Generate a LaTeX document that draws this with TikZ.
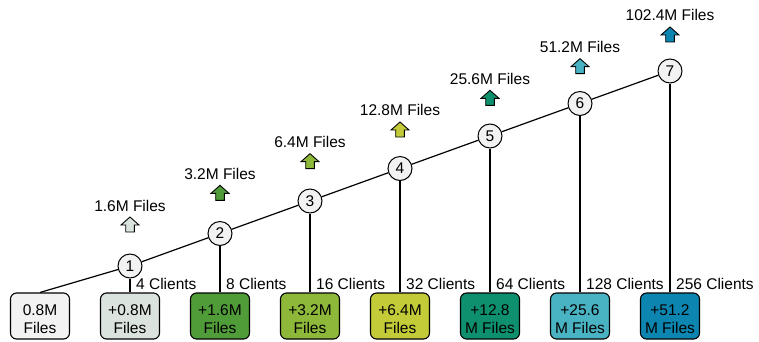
\documentclass[tikz,border=0pt]{standalone}
\usepackage{fontspec}
\setmainfont{Liberation Sans}
\definecolor{cA}{HTML}{F2F2F2}
\definecolor{cB}{HTML}{DAE3DD}
\definecolor{cC}{HTML}{4F9C39}
\definecolor{cD}{HTML}{8DB83A}
\definecolor{cE}{HTML}{C3CB38}
\definecolor{cF}{HTML}{0E8F6D}
\definecolor{cG}{HTML}{49B3C3}
\definecolor{cH}{HTML}{0C85B0}
\tikzset{
  txt/.style={font=\fontsize{15.5}{18}\selectfont, inner sep=0pt},
  filebox/.style={txt, draw=black, line width=1.1pt, rounded corners=6pt,
    minimum width=59pt, minimum height=46pt, align=center, text=black,
    text height=36pt, text depth=2pt},
  stepnum/.style={txt, circle, draw=black, line width=1pt, fill=cA,
    minimum size=24pt},
  link/.style={draw=black, line width=1.2pt},
  uparrow/.pic={
    \draw[pic actions, line width=0.9pt, line join=miter]
      (-4.3,15) -- (-4.3,8) -- (-9,8) -- (0,0) -- (9,8) -- (4.3,8) -- (4.3,15) -- cycle;
  }
}
\begin{document}
\begin{tikzpicture}[x=1pt, y=-1pt]
\useasboundingbox (0,0) rectangle (759,341);

% file boxes along the bottom
\node[filebox, fill=cA] (b1) at (40,316) {0.8M\\Files};
\node[filebox, fill=cB] (b2) at (130,316) {+0.8M\\Files};
\node[filebox, fill=cC] (b3) at (220,316) {+1.6M\\Files};
\node[filebox, fill=cD] (b4) at (310,316) {+3.2M\\Files};
\node[filebox, fill=cE] (b5) at (400,316) {+6.4M\\Files};
\node[filebox, fill=cF] (b6) at (490,316) {+12.8\\M Files};
\node[filebox, fill=cG] (b7) at (580,316) {+25.6\\M Files};
\node[filebox, fill=cH] (b8) at (670,316) {+51.2\\M Files};

% numbered steps on the rising line
\node[stepnum] (c1) at (130,266) {1};
\node[stepnum] (c2) at (220,233.5) {2};
\node[stepnum] (c3) at (310,201) {3};
\node[stepnum] (c4) at (400,168.5) {4};
\node[stepnum] (c5) at (490,136) {5};
\node[stepnum] (c6) at (580,103.5) {6};
\node[stepnum] (c7) at (670,71) {7};

% rising line through the steps
\draw[link] (b1.north) -- (c1) -- (c2) -- (c3) -- (c4) -- (c5) -- (c6) -- (c7);

% drops from each step to its box
\foreach \i/\j in {1/2,2/3,3/4,4/5,5/6,6/7,7/8}
  \draw[link] (c\i.south) -- (b\j.north);

% client counts
\node[txt, anchor=base west] (n1) at (136,289) {4 Clients};
\node[txt, anchor=base west] (n2) at (226,289) {8 Clients};
\node[txt, anchor=base west] (n3) at (316,289) {16 Clients};
\node[txt, anchor=base west] (n4) at (406,289) {32 Clients};
\node[txt, anchor=base west] (n5) at (496,289) {64 Clients};
\node[txt, anchor=base west] (n6) at (586,289) {128 Clients};
\node[txt, anchor=base west] (n7) at (676,289) {256 Clients};

% running totals with growth arrows
\foreach \k/\x/\col/\lab in {1/130/cB/1.6M Files, 2/220/cC/3.2M Files,
    3/310/cD/6.4M Files, 4/400/cE/12.8M Files, 5/490/cF/25.6M Files,
    6/580/cG/51.2M Files, 7/670/cH/102.4M Files}{
  \pgfmathsetmacro{\yb}{211-31.67*(\k-1)}
  \node[txt, anchor=base] (t\k) at (\x,\yb) {\lab};
  \pic[fill=\col, draw=black] at (\x,\yb+6) {uparrow};
}
\end{tikzpicture}
\end{document}
